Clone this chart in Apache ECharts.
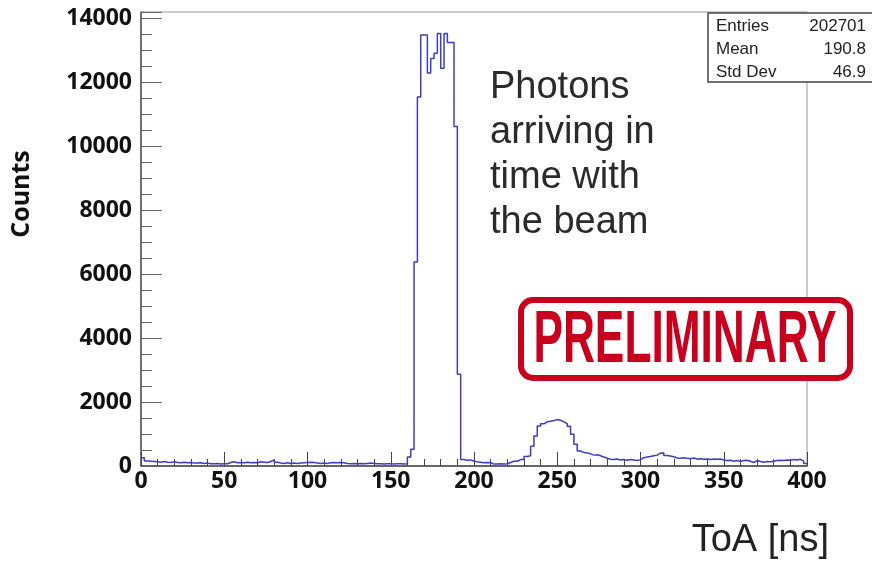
<!DOCTYPE html>
<html>
<head>
<meta charset="utf-8">
<script src="https://cdn.jsdelivr.net/npm/echarts@6/dist/echarts.min.js"></script>
<style>
  html, body { margin: 0; padding: 0; background: #fff; }
  #toa { width: 872px; height: 561px; }
</style>
</head>
<body>
<div id="toa"></div>
<script>
// ToA histogram, 2 ns bins from 0 to 400 ns
var binWidth = 2;
var counts = [
    260, 160, 150, 140, 130, 120, 140, 120, 110, 130,
    110, 100, 120, 100, 110, 90, 90, 100, 80, 90,
    70, 70, 80, 60, 70, 70, 110, 130, 100, 110,
    100, 120, 100, 110, 100, 130, 120, 110, 140, 190,
    120, 90, 80, 100, 80, 90, 80, 90, 100, 110,
    120, 110, 90, 80, 90, 80, 100, 110, 100, 110,
    100, 80, 70, 80, 70, 80, 70, 80, 90, 80,
    70, 70, 60, 70, 70, 60, 70, 70, 60, 70,
    280, 520, 6380, 11530, 13470, 13470, 12280, 12740, 12900, 13520,
    12430, 13520, 13240, 13240, 10610, 2870, 200, 180, 190, 150,
    130, 120, 100, 110, 100, 60, 60, 70, 60, 70,
    110, 150, 150, 200, 200, 300, 320, 620, 940, 1250,
    1320, 1380, 1400, 1420, 1450, 1430, 1380, 1320, 1240, 990,
    680, 470, 420, 410, 380, 340, 350, 320, 280, 240,
    210, 200, 220, 190, 200, 180, 200, 190, 170, 200,
    260, 280, 300, 320, 340, 400, 410, 330, 310, 290,
    250, 240, 260, 240, 230, 250, 220, 230, 210, 220,
    200, 220, 210, 220, 190, 170, 180, 150, 170, 140,
    170, 180, 150, 110, 170, 140, 120, 140, 130, 150,
    170, 180, 170, 190, 180, 200, 190, 210, 150, 80
];
var xTicks = [0, 50, 100, 150, 200, 250, 300, 350, 400];
var yTicks = [0, 2000, 4000, 6000, 8000, 10000, 12000, 14000];
var statNames = ['Entries', 'Mean', 'Std Dev'];
var statValues = ['202701', '190.8', '46.9'];
var noteLines = ['Photons', 'arriving in', 'time with', 'the beam'];

var histData = counts.map(function (c, i) { return [i * binWidth, c]; });
histData.push([counts.length * binWidth, counts[counts.length - 1]]);

var chart = echarts.init(document.getElementById('toa'));

var labelFont = { fontFamily: 'Open Sans', fontWeight: 'bold', fontSize: 23, color: '#111' };

var graphics = [];
graphics.push({
    type: 'text', x: 22, y: 194, rotation: Math.PI / 2,
    style: { text: 'Counts', font: 'bold 25px "Open Sans"', fill: '#111', textAlign: 'center', textVerticalAlign: 'middle' }
});
graphics.push({
    type: 'text', x: 829, y: 541,
    style: { text: 'ToA [ns]', font: '38px "Liberation Sans"', fill: '#222', textAlign: 'right', textVerticalAlign: 'middle' }
});
noteLines.forEach(function (t, i) {
    graphics.push({
        type: 'text', x: 490, y: 88 + i * 45,
        style: { text: t, font: '38px "Liberation Sans"', fill: '#2a2a2a', textAlign: 'left', textVerticalAlign: 'middle' }
    });
});
// stats box
graphics.push({
    type: 'rect', z: 10,
    shape: { x: 708, y: 13, width: 180, height: 69 },
    style: { fill: '#fff', stroke: '#444', lineWidth: 1.5 }
});
statNames.forEach(function (n, i) {
    graphics.push({
        type: 'text', z: 11, x: 716, y: 26 + i * 23,
        style: { text: n, font: '17px "Liberation Sans"', fill: '#222', textAlign: 'left', textVerticalAlign: 'middle' }
    });
    graphics.push({
        type: 'text', z: 11, x: 866, y: 26 + i * 23,
        style: { text: statValues[i], font: '17px "Liberation Sans"', fill: '#222', textAlign: 'right', textVerticalAlign: 'middle' }
    });
});
// PRELIMINARY stamp
graphics.push({
    type: 'rect', z: 10,
    shape: { x: 521, y: 300, width: 329, height: 78, r: 12 },
    style: { fill: '#fff', stroke: '#c8001e', lineWidth: 6 }
});
graphics.push({
    type: 'text', z: 11, x: 685, y: 341, scaleX: 0.59,
    style: { text: 'PRELIMINARY', font: 'bold 75px "Liberation Sans"', fill: '#c8001e', textAlign: 'center', textVerticalAlign: 'middle' }
});

var option = {
    animation: false,
    backgroundColor: '#fff',
    grid: { left: 141, right: 65, top: 12, bottom: 95, show: true, borderColor: '#999', borderWidth: 1 },
    xAxis: {
        type: 'value', min: 0, max: 400, interval: 50,
        axisLine: { lineStyle: { color: '#444', width: 1.5 } },
        axisTick: { inside: true, length: 14, lineStyle: { color: '#444' } },
        minorTick: { show: true, splitNumber: 5, length: 7, lineStyle: { color: '#444' } },
        splitLine: { show: false },
        axisLabel: Object.assign({ margin: 4, formatter: function (v) { return xTicks.indexOf(v) >= 0 ? String(v) : ''; } }, labelFont)
    },
    yAxis: {
        type: 'value', min: 0, max: 14190, interval: 2000,
        axisLine: { show: true, lineStyle: { color: '#555', width: 1.5 } },
        axisTick: { show: true, inside: true, length: 21, lineStyle: { color: '#666' } },
        minorTick: { show: true, splitNumber: 4, length: 11, lineStyle: { color: '#666' } },
        splitLine: { show: false },
        axisLabel: Object.assign({ margin: 9, formatter: function (v) { return yTicks.indexOf(v) >= 0 ? String(v) : ''; } }, labelFont)
    },
    series: [{
        type: 'line',
        step: 'end',
        symbol: 'none',
        data: histData,
        lineStyle: { color: '#3d3dc4', width: 1.5 }
    }],
    graphic: graphics
};
chart.setOption(option);
</script>
</body>
</html>
